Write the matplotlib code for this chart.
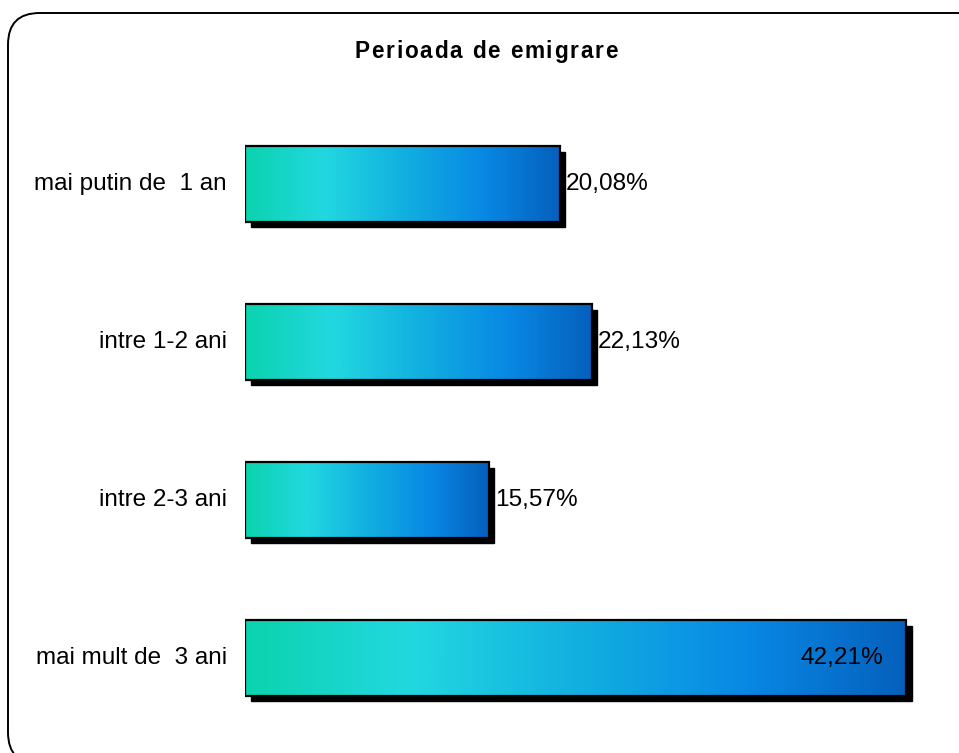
import matplotlib
matplotlib.use("Agg")
import matplotlib.pyplot as plt
import numpy as np
from matplotlib.colors import LinearSegmentedColormap
from matplotlib.patches import Rectangle, FancyBboxPatch
from matplotlib import transforms

plt.rcParams['font.family'] = ['Liberation Sans', 'DejaVu Sans']

title = "Perioada de emigrare"
categories = ["mai putin de  1 an", "intre 1-2 ani", "intre 2-3 ani", "mai mult de  3 ani"]
values = [20.08, 22.13, 15.57, 42.21]
value_labels = ["20,08%", "22,13%", "15,57%", "42,21%"]

W, H, DPI = 959, 753, 100
fig = plt.figure(figsize=(W / DPI, H / DPI), dpi=DPI)
fig.patch.set_facecolor('white')

# rounded frame
frame = FancyBboxPatch((8 / W, 1 - 764 / H), (990 - 8) / W, (764 - 13) / H,
                       boxstyle="round,pad=0,rounding_size=0.033",
                       transform=fig.transFigure, fill=False, edgecolor='black',
                       linewidth=1.4, mutation_aspect=W / H)
fig.patches.append(frame)

# axes: x=0 at px 245, 15.67 px per unit
x0_px, px_per = 245, 15.67
xmax = 45.0
ax_left = x0_px / W
ax_w = xmax * px_per / W
top_px, bot_px = 105, 737
ax = fig.add_axes([ax_left, 1 - bot_px / H, ax_w, (bot_px - top_px) / H])
ax.axis('off')

cmap = LinearSegmentedColormap.from_list("g", [
    (0.0, "#0bd3ae"), (0.25, "#22d8e0"), (0.5, "#12b0e0"),
    (0.76, "#0888e4"), (1.0, "#0560bc")])
grad = np.linspace(0, 1, 256).reshape(1, -1)

bar_h = 0.475
shadow_tr = ax.transData + transforms.ScaledTranslation(5.5 / DPI, -5.5 / DPI, fig.dpi_scale_trans)
for i, (v, lab, vl) in enumerate(zip(values, categories, value_labels)):
    y0 = i - bar_h / 2
    sh = Rectangle((0, y0), v, bar_h, facecolor='black', edgecolor='black',
                   transform=shadow_tr, zorder=1)
    ax.add_patch(sh)
    ax.imshow(grad, cmap=cmap, aspect='auto', extent=(0, v, i + bar_h / 2, y0),
              zorder=2, interpolation='bilinear')
    ax.add_patch(Rectangle((0, y0), v, bar_h, facecolor='none', edgecolor='black',
                           linewidth=1.6, zorder=3))
    ax.text(-18 / px_per, i, lab, ha='right', va='center', fontsize=17.5, color='black')
    if v > 35:
        ax.text(v - 23 / px_per, i, vl, ha='right', va='center', fontsize=17.6, color='black', zorder=4)
    else:
        ax.text(v + 6 / px_per, i, vl, ha='left', va='center', fontsize=17.6, color='black', zorder=4)
ax.set_xlim(0, xmax)
ax.set_ylim(3.5, -0.5)

# title with slight letter spacing (Arial/Liberation Sans Bold advance widths, em units)
adv_em = {'P': .667, 'e': .556, 'r': .389, 'i': .278, 'o': .611, 'a': .556, 'd': .611,
          ' ': .278, 'm': .889, 'g': .611}
tsize = 16.3
em_px = tsize * DPI / 72
spacing = 1.7
adv = [adv_em[c] * em_px for c in title]
total = sum(adv) + spacing * (len(title) - 1)
x = 486 - total / 2
for c, a in zip(title, adv):
    fig.text(x / W, 1 - 58 / H, c, fontsize=tsize, fontweight='bold',
             family=['Liberation Sans'], ha='left', va='baseline', color='black')
    x += a + spacing

fig.savefig("out.png", dpi=DPI, facecolor='white')
